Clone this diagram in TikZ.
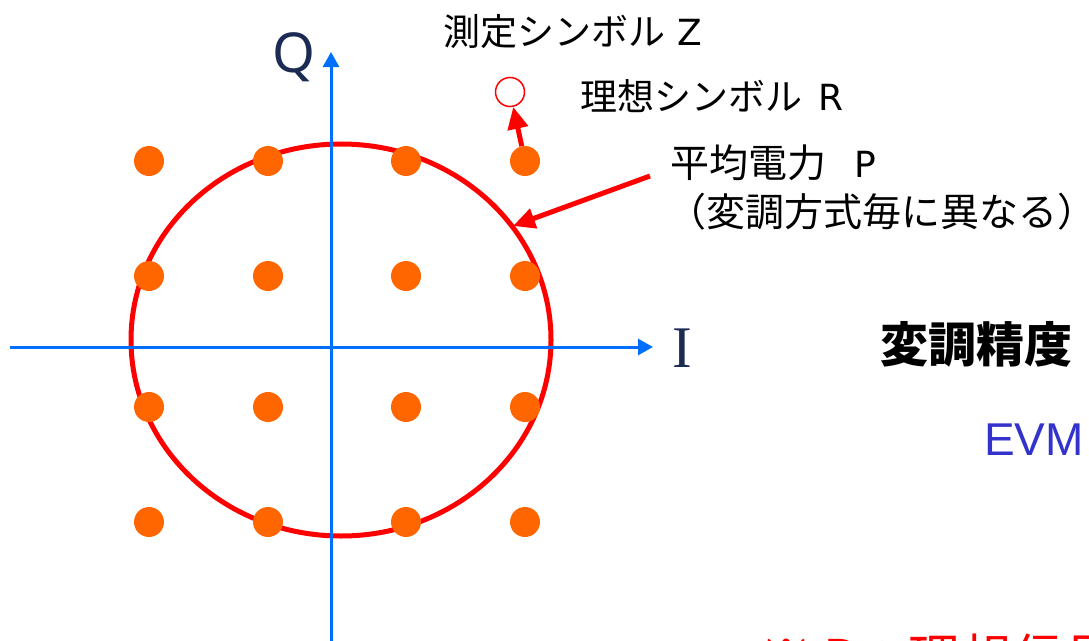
\documentclass[tikz,border=0pt]{standalone}
\usepackage{fontspec}
\setmainfont{Noto Sans CJK JP}
\newfontfamily\jp{Noto Sans CJK JP}
\newfontfamily\lsans{Liberation Sans}
\newfontfamily\lserif{Liberation Serif}
\newfontfamily\nsans{Noto Sans}
\newfontfamily\dvs{DejaVu Sans}
\usetikzlibrary{arrows.meta}
\definecolor{axisblue}{RGB}{0,110,255}
\definecolor{dotorange}{RGB}{255,102,0}
\definecolor{navy}{RGB}{28,43,82}
\definecolor{evmblue}{RGB}{51,51,204}
\tikzset{
  axisline/.style={axisblue, line width=3pt, -{Triangle[length=15pt,width=16pt]}},
  sym/.style={circle, fill=dotorange, minimum size=30pt, inner sep=0pt},
  ring/.style={circle, draw=red, line width=1.5pt, minimum size=29pt, inner sep=0pt},
  redarrow/.style={red, line width=5pt, -{Triangle[length=22pt,width=20pt]}},
  lbl/.style={anchor=base west, inner sep=0pt, font=\jp\fontsize{37}{37}\selectfont},
  lblb/.style={anchor=base west, inner sep=0pt, font=\jp\fontsize{39}{39}\selectfont}
}
\newcommand{\latin}[1]{{\dvs\fontsize{36}{36}\selectfont #1}}
\begin{document}
\begin{tikzpicture}[x=1pt,y=-1pt]
\useasboundingbox (0,0) rectangle (1089,640);
\begin{scope}
\clip (0,0) rectangle (1089,640);
% average power circle
\draw[red, line width=5pt] (341,340) ellipse [x radius=210pt, y radius=196pt];
% axes
\coordinate (ileft) at (10,347);
\coordinate (itip) at (653,347);
\coordinate (qbot) at (331,645);
\coordinate (qtip) at (331,52);
\draw[axisline] (ileft) -- (itip);
\draw[axisline] (qbot) -- (qtip);
% constellation
\foreach \c/\x in {1/149,2/268,3/406,4/525}{
  \foreach \r/\y in {1/161,2/276,3/407,4/522}{
    \node[sym] (d\r\c) at (\x,\y) {};
  }
}
% ideal symbol
\node[ring] (ideal) at (510,92) {};
\draw[redarrow] (d14) -- (ideal);
% labels
\node[anchor=base west, inner sep=0pt, text=navy, font=\nsans\fontsize{55}{55}\selectfont] (qlab) at (272,72) {Q};
\node[anchor=base west, inner sep=0pt, text=navy, font=\lserif\fontsize{59}{59}\selectfont] (ilab) at (672,367) {I};
\node[lbl] (zlab) at (443,45) {測定シンボル\hspace{12pt}\latin{Z}};
\node[lbl] (rlab) at (580,110) {理想シンボル\hspace{16pt}\latin{R}};
\node[lblb] (plab) at (670,177) {平均電力\hspace{28pt}\latin{P}};
\node[lblb] (plab2) at (667,226) {（変調方式毎に異なる）\kern-14pt};
\coordinate (pstart) at (650,176);
\coordinate (ptarget) at (513,226);
\draw[redarrow] (pstart) -- (ptarget);
\node[anchor=base west, inner sep=0pt, font=\jp\bfseries\fontsize{48}{48}\selectfont] (title) at (880,362) {変調精度};
\node[anchor=base west, inner sep=0pt, text=evmblue, font=\lsans\fontsize{46}{46}\selectfont] (evm) at (984,455) {EVM};
\node[anchor=base west, inner sep=0pt, text=red, font=\jp\fontsize{52}{52}\selectfont] (note) at (760,677) {※ P：理想信号};
\end{scope}
\end{tikzpicture}
\end{document}
